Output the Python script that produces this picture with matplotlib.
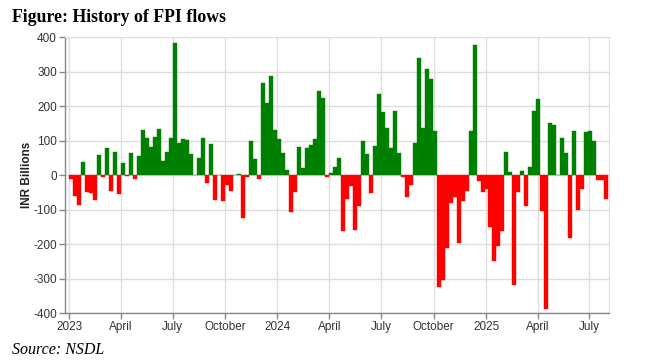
import matplotlib
matplotlib.use("Agg")
import matplotlib.pyplot as plt
import pandas as pd

# weekly FPI net flows, INR billions, starting first week of 2023
start_date = "2023-01-01"
flows = [
    -10, -60, -87, 38, -50, -53, -73, 60, -5, 78,
    -45, 68, -55, 35, -2, 65, -10, 57, 130, 107,
    82, 110, 135, 42, 67, 107, 383, 92, 105, 101,
    61, 0, 50, 109, -22, 91, -72, 2, -74, -27,
    -45, 0, 4, -125, -6, 99, 48, -11, 267, 209,
    288, 130, 106, 64, 14, -108, -49, 81, 20, 78,
    88, 104, 245, 223, -6, 5, 25, 49, -161, -68,
    -30, -159, -88, 100, 61, -52, 85, 235, 183, 137,
    80, 187, 64, -6, -62, -27, 92, 340, 138, 308,
    280, 128, -324, -303, -211, -80, -62, -197, -76, -46,
    127, 379, -17, -48, -40, -150, -250, -205, -162, 66,
    8, -319, -50, 11, -88, 23, 187, 220, -103, -389,
    150, 146, 0, 109, 65, -182, 127, -102, -40, 125,
    128, 100, -13, -13, -68,
]

tick_dates = ["2023-01-01", "2023-04-01", "2023-07-01", "2023-10-01",
              "2024-01-01", "2024-04-01", "2024-07-01", "2024-10-01",
              "2025-01-01", "2025-04-01", "2025-07-01"]
tick_labels = ["2023", "April", "July", "October", "2024", "April",
               "July", "October", "2025", "April", "July"]
y_ticks = [-400, -300, -200, -100, 0, 100, 200, 300, 400]

weeks = pd.date_range(start_date, periods=len(flows), freq="7D")
colors = ["#008000" if v >= 0 else "#ff0000" for v in flows]

fig = plt.figure(figsize=(6.47, 3.62), dpi=100)
ax = fig.add_axes([0.101, 0.135, 0.840, 0.762])

ax.bar(weeks, flows, width=7, align="edge", color=colors,
       edgecolor=colors, linewidth=0.3, zorder=3)

ax.set_xlim(pd.Timestamp("2022-12-25"), pd.Timestamp("2025-08-04"))
ax.set_ylim(-400, 400)
ax.set_yticks(y_ticks)
ax.set_yticklabels([str(v) for v in y_ticks])
ax.set_xticks(pd.to_datetime(tick_dates))
ax.set_xticklabels(tick_labels)

ax.grid(True, color="#dddddd", linewidth=1, zorder=0)
ax.set_axisbelow(True)
for s in ["top", "right"]:
    ax.spines[s].set_color("#dddddd")
for s in ["left", "bottom"]:
    ax.spines[s].set_color("#888888")
    ax.spines[s].set_linewidth(1)
ax.tick_params(axis="both", colors="#888888", length=4, width=1,
               labelsize=8.5, labelcolor="#333333", pad=2)
for lab in ax.get_xticklabels() + ax.get_yticklabels():
    lab.set_fontfamily("Liberation Sans")

ax.set_ylabel("INR Billions", fontsize=8.5, fontweight="bold",
              fontfamily="Liberation Sans", color="#222222", labelpad=0)

fig.text(12 / 647, 1 - 21.5 / 362, "Figure: History of FPI flows",
         fontfamily="Liberation Serif", fontweight="bold", fontsize=12.8,
         va="baseline", ha="left")
fig.text(12 / 647, 1 - 354 / 362, "Source: NSDL",
         fontfamily="Liberation Serif", fontstyle="italic", fontsize=11.5,
         va="baseline", ha="left")

fig.savefig("out.png", dpi=100)
